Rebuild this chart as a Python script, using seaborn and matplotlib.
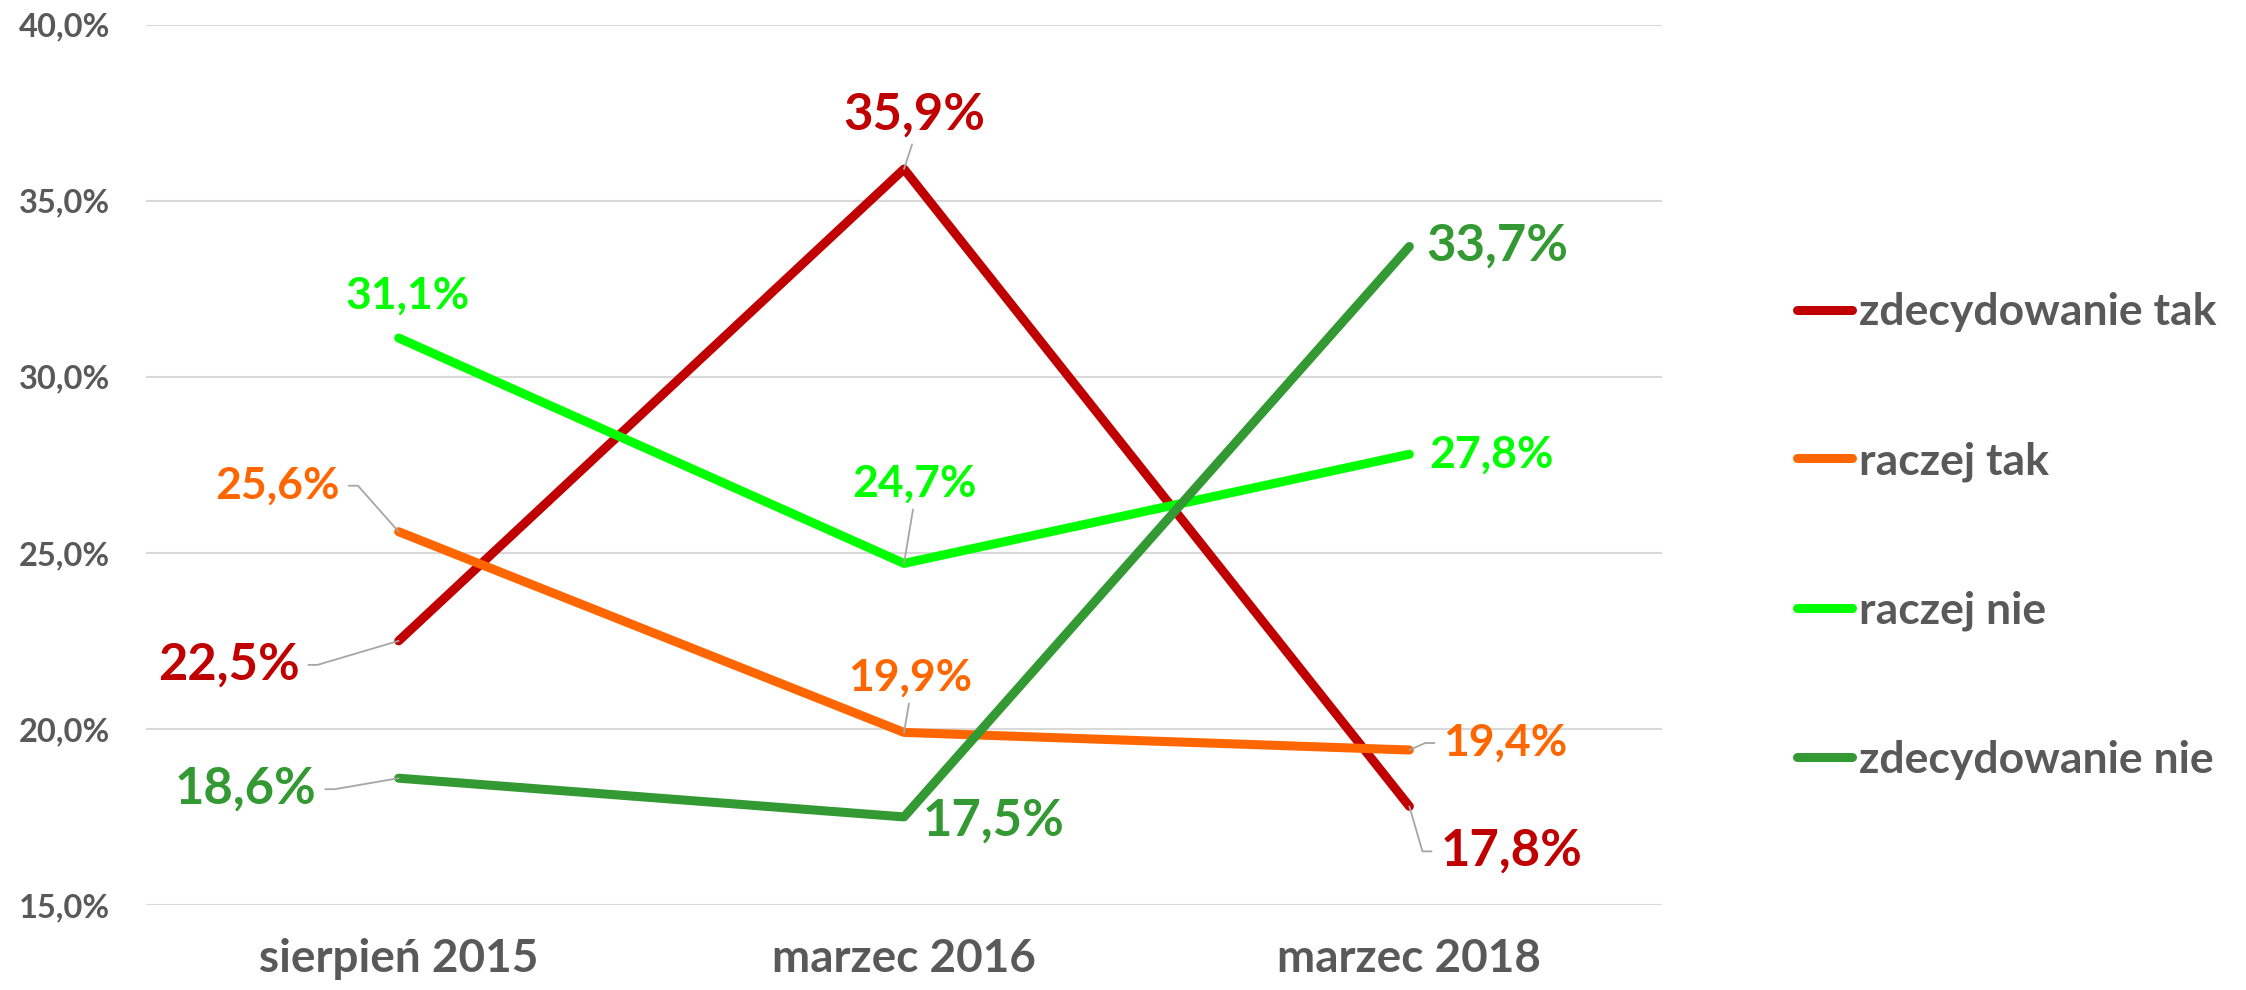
import numpy as np
import pandas as pd
import matplotlib
matplotlib.use("Agg")
import matplotlib.pyplot as plt
from matplotlib.lines import Line2D
import seaborn as sns

# survey waves and answer shares (%)
periods = ["sierpień 2015", "marzec 2016", "marzec 2018"]
answers = ["zdecydowanie tak", "raczej tak", "raczej nie", "zdecydowanie nie"]
zdecydowanie_tak = [22.5, 35.9, 17.8]
raczej_tak = [25.6, 19.9, 19.4]
raczej_nie = [31.1, 24.7, 27.8]
zdecydowanie_nie = [18.6, 17.5, 33.7]
y_ticks = [15, 20, 25, 30, 35, 40]

colors = {"zdecydowanie tak": "#C00000", "raczej tak": "#FF6600",
          "raczej nie": "#00FF00", "zdecydowanie nie": "#339933"}
grey = "#595959"

df = pd.DataFrame({
    "okres": periods * 4,
    "odpowiedz": np.repeat(answers, 3),
    "proc": zdecydowanie_tak + raczej_tak + raczej_nie + zdecydowanie_nie,
})

sns.set_style("white")
plt.rcParams["font.family"] = ["Lato", "DejaVu Sans"]
plt.rcParams["font.weight"] = "bold"

fig = plt.figure(figsize=(22.46, 9.9), dpi=100)
ax = fig.add_axes([0.065, 0.0859, 0.675, 0.8892])

sns.lineplot(data=df, x="okres", y="proc", hue="odpowiedz", palette=colors,
             sort=False, lw=6.5, solid_capstyle="round", legend=False, ax=ax,
             zorder=3)

ax.set_xlim(-0.5, 2.5)
ax.set_ylim(15, 40)
ax.set_yticks(y_ticks)
ax.set_yticklabels([f"{t:.1f}%".replace(".", ",") for t in y_ticks])
ax.grid(axis="y", color="#D9D9D9", lw=1.5)
ax.grid(axis="x", visible=False)
for s in ax.spines.values():
    s.set_visible(False)
ax.tick_params(axis="y", length=0, pad=26, labelsize=23.5, labelcolor=grey)
ax.tick_params(axis="x", length=0, pad=24, labelsize=33, labelcolor=grey)
ax.set_xlabel("")
ax.set_ylabel("")

# data labels: (dx, dy) offset in pixels, leader style
offsets = {
    "zdecydowanie tak": [(-170, -24, "left"), (10, 54, "up"), (102, -45, "right")],
    "raczej tak": [(-121, 46, "left"), (6, 55, "up"), (96, 7, "right")],
    "raczej nie": [(9, 42, None), (10, 80, "up"), (82, 0, None)],
    "zdecydowanie nie": [(-153, -11, "left"), (90, -4, None), (88, 0, None)],
}
big = {"zdecydowanie tak": 36.5, "zdecydowanie nie": 36.5, "raczej tak": 32, "raczej nie": 32}

for name in answers:
    vals = df.loc[df["odpowiedz"] == name, "proc"].tolist()
    for i, v in enumerate(vals):
        dx, dy, lead = offsets[name][i]
        arrow = None
        if lead == "left":
            arrow = dict(arrowstyle="-", color="#A6A6A6", lw=1.3, relpos=(1, 0.5),
                         shrinkA=4, shrinkB=0,
                         connectionstyle="arc,angleA=0,armA=18,rad=0")
        elif lead == "right":
            arrow = dict(arrowstyle="-", color="#A6A6A6", lw=1.3, relpos=(0, 0.5),
                         shrinkA=4, shrinkB=0,
                         connectionstyle="arc,angleA=180,armA=18,rad=0")
        elif lead == "up":
            arrow = dict(arrowstyle="-", color="#A6A6A6", lw=1.3, relpos=(0.5, 0),
                         shrinkA=2, shrinkB=0)
        ax.annotate(f"{v:.1f}%".replace(".", ","), xy=(i, v), xytext=(dx, dy),
                    textcoords="offset pixels", ha="center", va="center",
                    fontsize=big[name], fontweight="bold", color=colors[name],
                    arrowprops=arrow, zorder=4)

handles = [Line2D([], [], color=colors[a], lw=6.5, solid_capstyle="round") for a in answers]
leg = fig.legend(handles, answers, loc="center left", bbox_to_anchor=(0.8, 0.4586),
                 frameon=False, fontsize=32, labelspacing=2.45, handlelength=1.25,
                 handletextpad=0.15, borderpad=0, borderaxespad=0)
for t in leg.get_texts():
    t.set_color(grey)
    t.set_fontweight("bold")

fig.savefig("out.png", dpi=100)
